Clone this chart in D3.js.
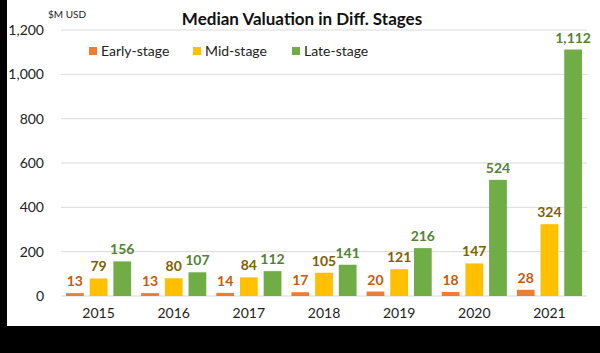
<!DOCTYPE html>
<html>
<head>
<meta charset="utf-8">
<script src="https://cdn.jsdelivr.net/npm/d3@7"></script>
<style>
  body { margin: 0; background: #000; }
  svg { display: block; }
  text { font-family: Lato, "Noto Sans", sans-serif; }
</style>
</head>
<body>
<svg width="600" height="353"></svg>
<script>
// data
const years = ['2015', '2016', '2017', '2018', '2019', '2020', '2021'];
const stages = ['Early-stage', 'Mid-stage', 'Late-stage'];
const early = [13, 13, 14, 17, 20, 18, 28];
const mid = [79, 80, 84, 105, 121, 147, 324];
const late = [156, 107, 112, 141, 216, 524, 1112];
const yTicks = [0, 200, 400, 600, 800, 1000, 1200];

const barColors = ['#ED7D31', '#FFC000', '#70AD47'];
const labelColors = ['#C55A11', '#7F6000', '#548235'];

const rows = years.map((y, i) => ({year: y, vals: [early[i], mid[i], late[i]]}));

const svg = d3.select('svg');

// white card with black borders left/bottom
svg.append('rect')
  .attr('x', 7).attr('y', 0)
  .attr('width', 593).attr('height', 326)
  .attr('fill', '#fff');

const plotL = 61, plotR = 587, plotT = 30, plotB = 296;

const xScale = d3.scaleBand()
  .domain(years)
  .range([plotL, plotR]);

const xInner = d3.scaleBand()
  .domain(stages)
  .range([5, xScale.bandwidth() - 5])
  .paddingInner(0.25);

const yScale = d3.scaleLinear()
  .domain([0, 1200])
  .range([plotB, plotT]);

// gridlines
svg.append('g')
  .selectAll('line')
  .data(yTicks)
  .enter().append('line')
  .attr('x1', plotL).attr('x2', plotR)
  .attr('y1', d => yScale(d)).attr('y2', d => yScale(d))
  .attr('stroke', '#d9d9d9')
  .attr('stroke-width', 1);

// y axis labels
const gY = svg.append('g')
  .attr('transform', `translate(${plotL},0)`)
  .call(d3.axisLeft(yScale).tickValues(yTicks).tickSize(0).tickPadding(17).tickFormat(d3.format(',')));
gY.select('.domain').remove();
gY.selectAll('text')
  .attr('font-size', 14)
  .attr('fill', '#222')
  .style('font-family', 'Lato, sans-serif');

// x axis labels
const gX = svg.append('g')
  .attr('transform', `translate(0,${plotB})`)
  .call(d3.axisBottom(xScale).tickSize(0).tickPadding(12));
gX.select('.domain').remove();
gX.selectAll('text')
  .attr('font-size', 14)
  .attr('fill', '#222')
  .style('font-family', 'Lato, sans-serif');

// bars
const groups = svg.append('g')
  .selectAll('g')
  .data(rows)
  .enter().append('g')
  .attr('transform', d => `translate(${xScale(d.year)},0)`);

groups.selectAll('rect')
  .data(d => d.vals.map((v, k) => ({v, k})))
  .enter().append('rect')
  .attr('x', d => xInner(stages[d.k]))
  .attr('width', xInner.bandwidth())
  .attr('y', d => yScale(d.v))
  .attr('height', d => plotB - yScale(d.v))
  .attr('fill', d => barColors[d.k]);

groups.selectAll('text')
  .data(d => d.vals.map((v, k) => ({v, k})))
  .enter().append('text')
  .attr('x', d => xInner(stages[d.k]) + xInner.bandwidth() / 2)
  .attr('y', d => yScale(d.v) - 7)
  .attr('text-anchor', 'middle')
  .attr('font-size', 14)
  .attr('font-weight', 'bold')
  .attr('fill', d => labelColors[d.k])
  .text(d => d3.format(',')(d.v));

// title
svg.append('text')
  .attr('x', 302).attr('y', 25)
  .attr('text-anchor', 'middle')
  .attr('font-size', 17)
  .attr('font-weight', 'bold')
  .attr('fill', '#111')
  .text('Median Valuation in Diff. Stages');

// unit label
svg.append('text')
  .attr('x', 48).attr('y', 18)
  .attr('font-size', 10)
  .attr('fill', '#222')
  .text('$M USD');

// legend
const legendX = [89, 193, 292];
const legend = svg.append('g')
  .selectAll('g')
  .data(stages)
  .enter().append('g')
  .attr('transform', (d, i) => `translate(${legendX[i]},51)`);
legend.append('rect')
  .attr('x', 0).attr('y', -4)
  .attr('width', 8).attr('height', 8)
  .attr('fill', (d, i) => barColors[i]);
legend.append('text')
  .attr('x', 12).attr('y', 5)
  .attr('font-size', 14)
  .attr('fill', '#222')
  .text(d => d);
</script>
</body>
</html>
